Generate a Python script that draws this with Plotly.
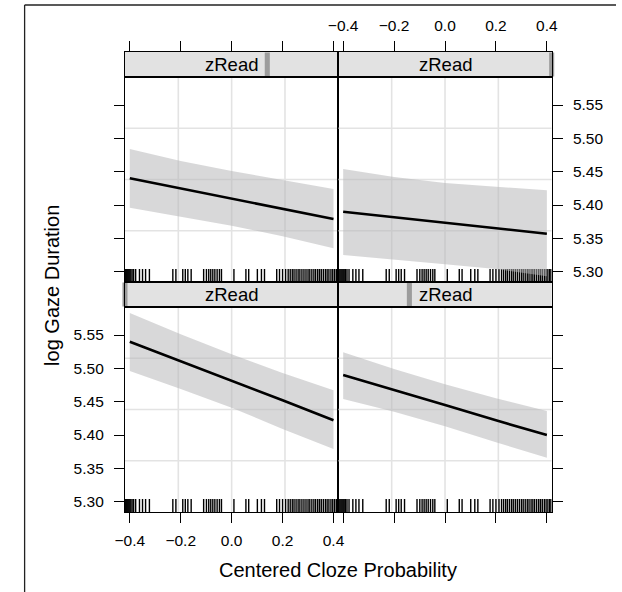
import plotly.graph_objects as go

# ---------------- data ----------------
x_pts = [-0.4, -0.2, 0.0, 0.2, 0.4]

# zRead levels in lattice order: 1 = lower-left, 2 = lower-right, 3 = upper-left, 4 = upper-right
fit_1 = [5.540, 5.511, 5.481, 5.452, 5.422]
low_1 = [5.496, 5.469, 5.441, 5.409, 5.379]
upp_1 = [5.583, 5.551, 5.521, 5.493, 5.467]

fit_2 = [5.490, 5.468, 5.445, 5.422, 5.400]
low_2 = [5.454, 5.435, 5.413, 5.389, 5.366]
upp_2 = [5.524, 5.499, 5.476, 5.455, 5.436]

fit_3 = [5.440, 5.425, 5.409, 5.394, 5.379]
low_3 = [5.396, 5.382, 5.369, 5.353, 5.335]
upp_3 = [5.484, 5.466, 5.451, 5.437, 5.424]

fit_4 = [5.390, 5.382, 5.373, 5.365, 5.357]
low_4 = [5.325, 5.318, 5.311, 5.304, 5.293]
upp_4 = [5.454, 5.442, 5.433, 5.427, 5.422]

# relative position of the zRead level shown in each strip
strip_pos = [0.0, 0.333, 0.667, 1.0]

# rug of observed cloze values
rug_x = [-0.416, -0.412, -0.408, -0.404, -0.400, -0.396, -0.391, -0.385, -0.377,
         -0.362, -0.350, -0.338, -0.323, -0.231, -0.219, -0.192, -0.182, -0.172,
         -0.159, -0.110, -0.099, -0.090, -0.082, -0.074, -0.066, -0.057, -0.048,
         -0.040, 0.009, 0.056, 0.067, 0.101, 0.117, 0.129, 0.177, 0.188, 0.200,
         0.212, 0.222, 0.230, 0.238, 0.245, 0.253, 0.261, 0.268, 0.276, 0.284,
         0.292, 0.300, 0.307, 0.315, 0.323, 0.330, 0.338, 0.345, 0.352, 0.360,
         0.368, 0.375, 0.382, 0.390, 0.397, 0.404, 0.411, 0.416]

x_ticks = [-0.4, -0.2, 0.0, 0.2, 0.4]
y_ticks = [5.30, 5.35, 5.40, 5.45, 5.50, 5.55]
x_range = [-0.419, 0.419]
y_range = [5.2845, 5.592]

strip_label = "zRead"
x_title = "Centered Cloze Probability"
y_title = "log Gaze Duration"

# ---------------- layout geometry (pixels) ----------------
W, H = 622, 592
def fx(p):
    return p / W
def fy(p):
    return 1 - p / H

cols = [(118, 337), (337, 556)]
panel_rows = {"upper": (77, 282), "lower": (307, 512)}
strip_rows = {"upper": (52, 77), "lower": (282, 307)}

FONT = "Liberation Sans, Arial, Helvetica, sans-serif"
GRID = "#e3e3e3"
BAND = "rgba(180,180,182,0.52)"
STRIP_BG = "#e2e2e2"
BAR = "#9c9c9c"

panels = [
    # (axis index, column, row, fit, low, upp, strip_pos index)
    (1, 0, "upper", fit_3, low_3, upp_3, 2),
    (2, 1, "upper", fit_4, low_4, upp_4, 3),
    (3, 0, "lower", fit_1, low_1, upp_1, 0),
    (4, 1, "lower", fit_2, low_2, upp_2, 1),
]

fig = go.Figure()
layout = dict(
    width=W, height=H,
    margin=dict(l=0, r=0, t=0, b=0),
    paper_bgcolor="white",
    plot_bgcolor="rgba(0,0,0,0)",
    showlegend=False,
    font=dict(family=FONT, size=15, color="black"),
)
shapes = []
annotations = []

rug_len = 13 / 205 * (y_range[1] - y_range[0])
gx = [x_range[0] + k * (x_range[1] - x_range[0]) / 4 for k in (1, 2, 3)]
gy = [y_range[0] + k * (y_range[1] - y_range[0]) / 4 for k in (1, 2, 3)]

for idx, col, row, fit, low, upp, sp in panels:
    xs = "x" if idx == 1 else f"x{idx}"
    ys = "y" if idx == 1 else f"y{idx}"
    # grid
    gxx, gyy = [], []
    for g in gx:
        gxx += [g, g, None]
        gyy += [y_range[0], y_range[1], None]
    for g in gy:
        gxx += [x_range[0], x_range[1], None]
        gyy += [g, g, None]
    fig.add_trace(go.Scatter(x=gxx, y=gyy, mode="lines", xaxis=xs, yaxis=ys,
                             line=dict(color=GRID, width=1.6), hoverinfo="skip"))
    # rug
    rx, ry = [], []
    for r in rug_x:
        rx += [r, r, None]
        ry += [y_range[0], y_range[0] + rug_len, None]
    fig.add_trace(go.Scatter(x=rx, y=ry, mode="lines", xaxis=xs, yaxis=ys,
                             line=dict(color="black", width=1.4), hoverinfo="skip"))
    # confidence band
    fig.add_trace(go.Scatter(x=x_pts + x_pts[::-1], y=upp + low[::-1], mode="lines",
                             fill="toself", fillcolor=BAND, line=dict(width=0),
                             xaxis=xs, yaxis=ys, hoverinfo="skip"))
    # fitted line
    fig.add_trace(go.Scatter(x=x_pts, y=fit, mode="lines", xaxis=xs, yaxis=ys,
                             line=dict(color="black", width=2.6), hoverinfo="skip"))

    c0, c1 = cols[col]
    r0, r1 = panel_rows[row]
    xname = "xaxis" if idx == 1 else f"xaxis{idx}"
    yname = "yaxis" if idx == 1 else f"yaxis{idx}"
    layout[xname] = dict(
        domain=[fx(c0), fx(c1)], range=x_range, anchor=ys,
        showline=True, mirror=True, linecolor="black", linewidth=1.2,
        showgrid=False, zeroline=False,
        ticks="outside" if row == "lower" else "", ticklen=10, tickwidth=1.2,
        tickcolor="black", tickvals=x_ticks, tickformat=".1f", ticklabelstandoff=4,
        showticklabels=(row == "lower" and col == 0),
        tickfont=dict(size=15.5, family=FONT, color="black"),
    )
    layout[yname] = dict(
        domain=[fy(r1), fy(r0)], range=y_range, anchor=xs,
        side="left" if col == 0 else "right",
        showline=True, mirror=True, linecolor="black", linewidth=1.2,
        showgrid=False, zeroline=False,
        ticks="outside", ticklen=10, tickwidth=1.2, tickcolor="black",
        tickvals=y_ticks, tickformat=".2f", ticklabelstandoff=7,
        showticklabels=(row == "lower" and col == 0) or (row == "upper" and col == 1),
        tickfont=dict(size=15.5, family=FONT, color="black"),
    )

    # strip subplot
    sidx = idx + 4
    sxs, sys_ = f"x{sidx}", f"y{sidx}"
    s0, s1 = strip_rows[row]
    fig.add_trace(go.Scatter(x=[x_range[0]], y=[0.5], mode="markers", xaxis=sxs, yaxis=sys_,
                             marker=dict(opacity=0), hoverinfo="skip"))
    layout[f"xaxis{sidx}"] = dict(
        domain=[fx(c0), fx(c1)], range=x_range, anchor=sys_, side="top",
        showline=True, mirror=True, linecolor="black", linewidth=1.2,
        showgrid=False, zeroline=False,
        ticks="outside" if row == "upper" else "", ticklen=10, tickwidth=1.2,
        tickcolor="black", tickvals=x_ticks, tickformat=".1f", ticklabelstandoff=4,
        showticklabels=(row == "upper" and col == 1),
        tickfont=dict(size=15.5, family=FONT, color="black"),
    )
    layout[f"yaxis{sidx}"] = dict(
        domain=[fy(s1), fy(s0)], range=[0, 1], anchor=sxs,
        showline=True, mirror=True, linecolor="black", linewidth=1.2,
        showgrid=False, zeroline=False, ticks="", showticklabels=False,
    )
    # strip background and level indicator
    shapes.append(dict(type="rect", xref="paper", yref="paper",
                       x0=fx(c0), x1=fx(c1), y0=fy(s1), y1=fy(s0),
                       fillcolor=STRIP_BG, line=dict(width=0), layer="below"))
    bx = fx(c0) + strip_pos[sp] * (fx(c1) - fx(c0))
    shapes.append(dict(type="rect", xref="paper", yref="paper",
                       x0=bx - fx(2.6), x1=bx + fx(2.6), y0=fy(s1 - 0.5), y1=fy(s0 + 0.5),
                       fillcolor=BAR, line=dict(width=0), layer="below"))
    annotations.append(dict(text=strip_label, xref="paper", yref="paper",
                            x=(fx(c0) + fx(c1)) / 2, y=(fy(s0) + fy(s1)) / 2,
                            xanchor="center", yanchor="middle", showarrow=False,
                            font=dict(size=18.5, family=FONT, color="black")))

# outer frame (only its left and top edges fall inside the picture)
shapes.append(dict(type="line", xref="paper", yref="paper",
                   x0=fx(15), x1=fx(15), y0=0, y1=fy(5),
                   line=dict(color="#222222", width=1.3), layer="above"))
shapes.append(dict(type="line", xref="paper", yref="paper",
                   x0=fx(15), x1=1, y0=fy(5), y1=fy(5),
                   line=dict(color="#222222", width=1.3), layer="above"))

annotations.append(dict(text=x_title, xref="paper", yref="paper", x=fx(337), y=fy(570),
                        xanchor="center", yanchor="middle", showarrow=False,
                        font=dict(size=20, family=FONT, color="black")))
annotations.append(dict(text=y_title, xref="paper", yref="paper", x=fx(43), y=fy(285),
                        xanchor="center", yanchor="middle", showarrow=False, textangle=-90,
                        font=dict(size=20, family=FONT, color="black")))

layout["shapes"] = shapes
layout["annotations"] = annotations
fig.update_layout(**layout)
fig.write_html(
    "out.html",
    config={"displayModeBar": False},
    post_script="document.body.style.margin='0px';document.documentElement.style.overflow='hidden';document.body.style.overflow='hidden';",
)
